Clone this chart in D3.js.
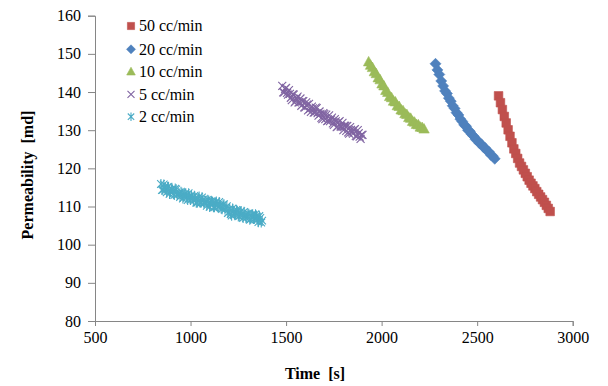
<!DOCTYPE html>
<html><head><meta charset="utf-8">
<script src="https://cdn.jsdelivr.net/npm/d3@7"></script>
<style>body{margin:0;background:#fff}svg{display:block}</style>
</head><body>
<svg id="c" width="608" height="386"></svg>
<script>
const seriesNames = ["50 cc/min","20 cc/min","10 cc/min","5 cc/min","2 cc/min"];
const xTicks = [500,1000,1500,2000,2500,3000];
const yTicks = [80,90,100,110,120,130,140,150,160];

const t50 = [2612,2622,2632,2642,2652,2662,2672,2682,2692,2702,2712,2722,2732,2742,2752,2762,2772,2782,2792,2802,2812,2822,2832,2842,2852,2862,2872,2882];
const p50 = [139.0,137.2,135.4,133.6,131.9,130.1,128.4,126.7,125.1,123.9,122.6,121.4,120.5,119.6,118.7,117.8,116.9,116.1,115.4,114.7,113.9,113.2,112.5,111.8,111.1,110.3,109.5,108.7];

const t20 = [2282,2292,2302,2312,2322,2332,2342,2352,2362,2372,2382,2392,2402,2412,2422,2432,2442,2452,2462,2472,2482,2492,2502,2512,2522,2532,2542,2552,2562,2572,2582,2592];
const p20 = [147.4,145.8,144.6,142.9,141.6,140.3,139.6,138.4,137.6,136.4,135.7,134.6,134.0,132.9,132.3,131.4,131.0,130.0,129.7,128.9,128.4,127.6,127.3,126.6,126.3,125.6,125.3,124.6,124.3,123.5,123.2,122.5];

const t10 = [1932,1942,1952,1962,1972,1982,1992,2002,2012,2022,2032,2042,2052,2062,2072,2082,2092,2102,2112,2122,2132,2142,2152,2162,2172,2182,2192,2202,2212,2222];
const p10 = [147.9,147.0,146.4,145.3,144.8,143.7,143.2,142.1,141.6,140.4,139.9,138.8,138.5,137.6,137.4,136.4,136.2,135.3,135.1,134.3,134.1,133.3,133.1,132.3,132.1,131.5,131.4,130.8,130.7,130.3];

const t5 = [1480,1485,1490,1495,1500,1505,1510,1515,1520,1525,1530,1535,1540,1545,1550,1555,1560,1565,1570,1575,1580,1585,1590,1595,1600,1605,1610,1615,1620,1625,1630,1635,1640,1645,1650,1655,1660,1665,1670,1675,1680,1685,1690,1695,1700,1705,1710,1715,1720,1725,1730,1735,1740,1745,1750,1755,1760,1765,1770,1775,1780,1785,1790,1795,1800,1805,1810,1815,1820,1825,1830,1835,1840,1845,1850,1855,1860,1865,1870,1875,1880,1885,1890,1895,1900];
const p5 = [141.6,139.9,139.9,140.8,141.1,139.8,139.3,140.5,139.5,138.5,137.9,139.4,139.3,137.3,137.6,138.3,138.8,137.3,137.3,138.3,136.4,137.6,137.6,136.0,136.0,137.3,136.7,135.2,136.9,135.6,134.8,136.2,135.7,134.6,134.7,135.9,135.8,134.5,133.8,134.9,134.3,133.2,132.9,134.5,134.2,132.9,134.1,132.4,132.5,133.9,132.4,132.8,133.3,131.8,131.4,132.9,132.3,130.8,131.0,132.1,132.4,131.0,130.9,131.9,130.0,131.2,131.1,129.8,131.1,129.4,129.1,130.8,130.1,129.4,129.1,130.1,130.3,128.5,128.4,130.0,129.2,128.3,127.7,128.8,128.8];

const t2 = [845,850,855,860,865,870,875,880,885,890,895,900,905,910,915,920,925,930,935,940,945,950,955,960,965,970,975,980,985,990,995,1000,1005,1010,1015,1020,1025,1030,1035,1040,1045,1050,1055,1060,1065,1070,1075,1080,1085,1090,1095,1100,1105,1110,1115,1120,1125,1130,1135,1140,1145,1150,1155,1160,1165,1170,1175,1180,1185,1190,1195,1200,1205,1210,1215,1220,1225,1230,1235,1240,1245,1250,1255,1260,1265,1270,1275,1280,1285,1290,1295,1300,1305,1310,1315,1320,1325,1330,1335,1340,1345,1350,1355,1360,1365,1370,1375];
const p2 = [115.9,114.3,114.4,115.8,115.0,114.4,113.7,115.1,115.2,113.3,113.9,114.5,114.5,113.3,113.0,114.7,114.5,113.0,113.3,113.5,112.5,113.9,113.6,112.1,112.5,113.3,113.5,112.4,111.7,113.5,112.7,111.7,112.9,112.1,111.6,112.8,112.1,111.0,111.0,112.2,112.6,111.0,111.0,112.4,111.8,110.9,111.0,111.5,110.2,111.8,111.6,109.9,110.5,111.4,111.2,109.8,109.8,111.0,111.3,110.2,109.9,111.2,110.4,109.5,109.3,110.5,110.6,109.2,109.7,110.1,108.3,108.5,109.5,108.0,107.6,109.5,108.8,107.9,108.1,109.1,108.9,107.4,107.5,108.6,108.8,107.7,107.0,108.6,107.8,107.0,107.2,108.2,108.1,106.5,106.7,107.7,108.0,106.7,106.8,108.0,107.5,106.5,105.9,107.5,107.0,105.8,106.3];

const colors = ["#C0504D","#4F81BD","#9BBB59","#8064A2","#4BACC6"];
const symbols = [
  "M-4.3,-4.3h8.6v8.6h-8.6z",
  "M0,-5.5L5.5,0L0,5.5L-5.5,0z",
  "M0,-5.5L5.2,4L-5.2,4z",
  "M-4,-4L4,4M4,-4L-4,4",
  "M-3.8,-3.8L3.8,3.8M3.8,-3.8L-3.8,3.8M0,-5L0,5"
];
const legSymbols = [
  "M-3.6,-3.6h7.2v7.2h-7.2z",
  "M0,-4.5L4.5,0L0,4.5L-4.5,0z",
  "M0,-4.5L4.3,3.3L-4.3,3.3z",
  "M-3.5,-3.5L3.5,3.5M3.5,-3.5L-3.5,3.5",
  "M-3.2,-3.2L3.2,3.2M3.2,-3.2L-3.2,3.2M0,-4.2L0,4.2"
];
const filled = [true,true,true,false,false];

const series = [[t50,p50],[t20,p20],[t10,p10],[t5,p5],[t2,p2]];

const svg = d3.select("#c");
const x = d3.scaleLinear().domain([500,3000]).range([95,572.7]);
const y = d3.scaleLinear().domain([80,160]).range([321,15.7]);
const font = "'Liberation Serif','Times New Roman',serif";
const axisColor = "#868686";

const gx = svg.append("g").attr("transform","translate(0,321)")
  .call(d3.axisBottom(x).tickValues(xTicks).tickSize(5).tickPadding(6).tickFormat(d3.format("d")));
const gy = svg.append("g").attr("transform","translate(95,0)")
  .call(d3.axisLeft(y).tickValues(yTicks).tickSize(7).tickPadding(7).tickFormat(d3.format("d")));
[gx,gy].forEach(g=>{
  g.attr("font-family",null).attr("font-size",null);
  g.select(".domain").attr("stroke",axisColor).attr("stroke-width",1);
  g.selectAll(".tick line").attr("stroke",axisColor);
  g.selectAll(".tick text").attr("fill","#000").style("font-family",font).style("font-size","16px");
});

series.forEach((s,i)=>{
  const pts = s[0].map((t,j)=>[t,s[1][j]]);
  svg.append("g").selectAll("path").data(pts).join("path")
    .attr("transform",d=>`translate(${x(d[0])},${y(d[1])})`)
    .attr("d",symbols[i])
    .attr("fill",filled[i]?colors[i]:"none")
    .attr("stroke",colors[i])
    .attr("stroke-width",filled[i]?0.6:1.1);
});

const legY = [26,49.3,71.7,94.3,116.7];
const leg = svg.append("g");
seriesNames.forEach((n,i)=>{
  leg.append("path").attr("transform",`translate(131,${legY[i]})`)
    .attr("d",legSymbols[i]).attr("fill",filled[i]?colors[i]:"none")
    .attr("stroke",colors[i]).attr("stroke-width",filled[i]?0.6:1.1);
  leg.append("text").attr("x",139).attr("y",legY[i]+5.3).text(n)
    .style("font-family",font).style("font-size","16px").attr("fill","#000");
});

svg.append("text").attr("x",315).attr("y",379).attr("text-anchor","middle")
  .style("font-family",font).style("font-size","16px").style("font-weight","bold")
  .style("white-space","pre").text("Time  [s]");
svg.append("text").attr("transform","translate(33,175) rotate(-90)").attr("text-anchor","middle")
  .style("font-family",font).style("font-size","16px").style("font-weight","bold")
  .style("white-space","pre").text("Permeability  [md]");
</script>
</body></html>
